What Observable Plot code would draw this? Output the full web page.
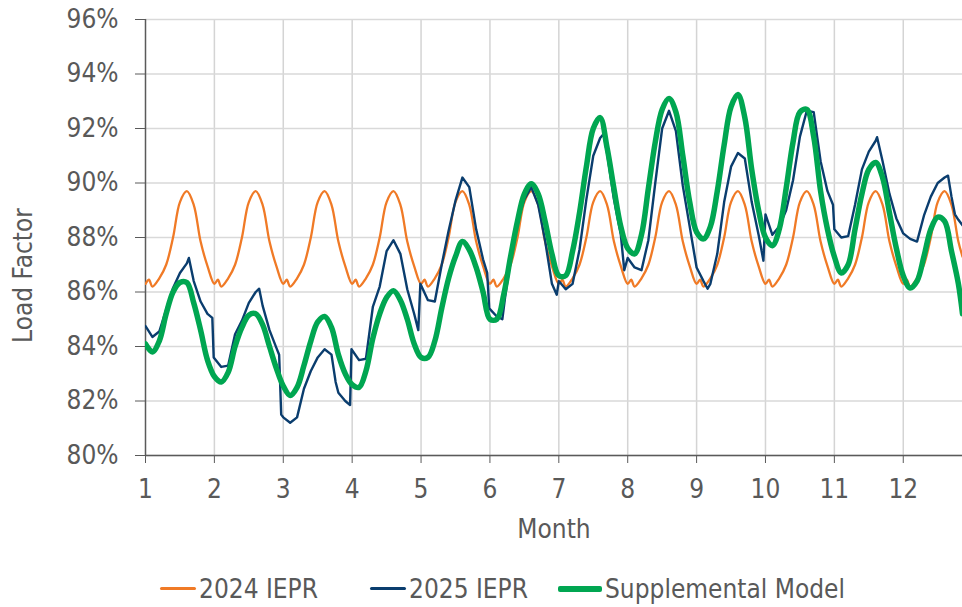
<!DOCTYPE html>
<html>
<head>
<meta charset="utf-8">
<script src="https://cdn.jsdelivr.net/npm/d3@7"></script>
<script src="https://cdn.jsdelivr.net/npm/@observablehq/plot@0.6"></script>
<style>
  html, body { margin: 0; padding: 0; background: #fff; }
  body { width: 962px; height: 607px; overflow: hidden; font-family: "DejaVu Sans Condensed", "DejaVu Sans", sans-serif; font-stretch: condensed; }
  #legend { position: relative; width: 962px; height: 47px; color: #595959; font-size: 26px; }
  .item { position: absolute; top: 5px; height: 47px; display: flex; align-items: center; }
  .sw { display: inline-block; width: 36px; margin-right: 3px; border-radius: 2px; }
</style>
</head>
<body>
<div id="chart"></div>
<div id="legend"></div>
<script>
// ---- data (month, load factor %) ----
const seriesNames = ["2024 IEPR", "2025 IEPR", "Supplemental Model"];
const seriesColors = ["#F07A26", "#0A3D6E", "#00A651"];
const monthTicks = [1, 2, 3, 4, 5, 6, 7, 8, 9, 10, 11, 12];
const yTicks = [80, 82, 84, 86, 88, 90, 92, 94, 96];

const iepr2024 = [
  [1.0,86.3],[1.05,86.45],[1.1,86.2],[1.2,86.5],[1.3,87.0],[1.4,88.0],[1.5,89.3],[1.6,89.7],[1.7,89.2],[1.8,87.85],[1.9,86.95],
  [2.0,86.3],[2.05,86.45],[2.1,86.2],[2.2,86.5],[2.3,87.0],[2.4,88.0],[2.5,89.3],[2.6,89.7],[2.7,89.2],[2.8,87.85],[2.9,86.95],
  [3.0,86.3],[3.05,86.45],[3.1,86.2],[3.2,86.5],[3.3,87.0],[3.4,88.0],[3.5,89.3],[3.6,89.7],[3.7,89.2],[3.8,87.85],[3.9,86.95],
  [4.0,86.3],[4.05,86.45],[4.1,86.2],[4.2,86.5],[4.3,87.0],[4.4,88.0],[4.5,89.3],[4.6,89.7],[4.7,89.2],[4.8,87.85],[4.9,86.95],
  [5.0,86.3],[5.05,86.45],[5.1,86.2],[5.2,86.5],[5.3,87.0],[5.4,88.0],[5.5,89.3],[5.6,89.7],[5.7,89.2],[5.8,87.85],[5.9,86.95],
  [6.0,86.3],[6.05,86.45],[6.1,86.2],[6.2,86.5],[6.3,87.0],[6.4,88.0],[6.5,89.3],[6.6,89.7],[6.7,89.2],[6.8,87.85],[6.9,86.95],
  [7.0,86.3],[7.05,86.45],[7.1,86.2],[7.2,86.5],[7.3,87.0],[7.4,88.0],[7.5,89.3],[7.6,89.7],[7.7,89.2],[7.8,87.85],[7.9,86.95],
  [8.0,86.3],[8.05,86.45],[8.1,86.2],[8.2,86.5],[8.3,87.0],[8.4,88.0],[8.5,89.3],[8.6,89.7],[8.7,89.2],[8.8,87.85],[8.9,86.95],
  [9.0,86.3],[9.05,86.45],[9.1,86.2],[9.2,86.5],[9.3,87.0],[9.4,88.0],[9.5,89.3],[9.6,89.7],[9.7,89.2],[9.8,87.85],[9.9,86.95],
  [10.0,86.3],[10.05,86.45],[10.1,86.2],[10.2,86.5],[10.3,87.0],[10.4,88.0],[10.5,89.3],[10.6,89.7],[10.7,89.2],[10.8,87.85],[10.9,86.95],
  [11.0,86.3],[11.05,86.45],[11.1,86.2],[11.2,86.5],[11.3,87.0],[11.4,88.0],[11.5,89.3],[11.6,89.7],[11.7,89.2],[11.8,87.85],[11.9,86.95],
  [12.0,86.3],[12.05,86.45],[12.1,86.2],[12.2,86.5],[12.3,87.0],[12.4,88.0],[12.5,89.3],[12.6,89.7],[12.7,89.2],[12.8,87.85],[12.86,87.3]
];

const iepr2025 = [
  [1.0,84.75],[1.1,84.35],[1.2,84.55],[1.3,85.35],[1.4,86.15],[1.5,86.7],[1.6,87.05],[1.63,87.25],[1.7,86.4],[1.8,85.65],[1.9,85.2],[1.97,85.05],
  [1.99,83.6],[2.1,83.25],[2.2,83.3],[2.3,84.45],[2.4,84.95],[2.5,85.6],[2.6,86.0],[2.65,86.12],[2.7,85.5],[2.8,84.6],[2.9,83.95],[2.94,83.7],
  [2.97,81.5],[3.0,81.4],[3.1,81.2],[3.2,81.4],[3.3,82.45],[3.4,83.1],[3.5,83.6],[3.6,83.9],[3.7,83.7],[3.76,82.7],[3.8,82.3],[3.9,82.0],[3.97,81.85],
  [3.99,83.9],[4.1,83.5],[4.2,83.55],[4.3,85.45],[4.4,86.2],[4.5,87.5],[4.6,87.9],[4.7,87.4],[4.8,86.1],[4.9,85.2],[4.96,84.6],
  [4.99,86.3],[5.1,85.7],[5.2,85.65],[5.3,87.0],[5.4,88.25],[5.5,89.35],[5.6,90.2],[5.7,89.85],[5.8,88.3],[5.9,87.2],[5.96,86.7],
  [5.99,85.4],[6.1,85.1],[6.18,85.0],[6.22,85.8],[6.3,87.2],[6.4,88.6],[6.5,89.4],[6.6,89.85],[6.7,89.2],[6.8,87.9],[6.9,86.3],[6.97,85.9],
  [7.0,86.4],[7.1,86.1],[7.2,86.3],[7.3,87.55],[7.4,89.4],[7.5,91.0],[7.6,91.65],[7.65,91.8],[7.7,91.1],[7.8,89.4],[7.9,88.1],[7.95,86.8],
  [8.0,87.25],[8.1,86.9],[8.2,86.8],[8.3,87.9],[8.4,90.0],[8.5,92.0],[8.6,92.65],[8.7,91.9],[8.8,89.9],[8.9,88.4],
  [9.0,86.9],[9.1,86.4],[9.16,86.12],[9.2,86.3],[9.3,87.4],[9.4,89.3],[9.5,90.6],[9.6,91.1],[9.7,90.9],[9.8,89.3],[9.9,88.1],[9.97,87.15],
  [10.0,88.85],[10.1,88.1],[10.2,88.4],[10.3,89.0],[10.4,90.1],[10.5,91.7],[10.6,92.65],[10.7,92.6],[10.8,90.8],[10.9,89.7],[10.98,89.2],
  [11.0,88.3],[11.1,88.0],[11.2,88.05],[11.3,89.2],[11.4,90.5],[11.5,91.15],[11.6,91.55],[11.62,91.68],[11.7,90.8],[11.8,89.6],[11.9,88.7],
  [12.0,88.15],[12.1,87.95],[12.2,87.85],[12.3,88.8],[12.4,89.5],[12.5,90.0],[12.6,90.2],[12.65,90.27],[12.7,89.5],[12.75,88.85],[12.8,88.65],[12.86,88.45]
];

const supplemental = [
  [1.0,84.1],[1.1,83.8],[1.2,84.2],[1.3,85.2],[1.4,86.0],[1.5,86.35],[1.6,86.35],[1.7,85.6],[1.8,84.6],[1.9,83.5],
  [2.0,82.9],[2.1,82.7],[2.2,83.05],[2.3,84.0],[2.4,84.7],[2.5,85.15],[2.6,85.2],[2.7,84.8],[2.8,84.0],[2.9,83.2],
  [3.0,82.55],[3.1,82.2],[3.2,82.5],[3.3,83.3],[3.4,84.2],[3.5,84.9],[3.6,85.1],[3.7,84.7],[3.8,83.7],[3.9,83.0],
  [4.0,82.6],[4.1,82.5],[4.2,83.1],[4.3,84.3],[4.4,85.2],[4.5,85.8],[4.6,86.05],[4.7,85.7],[4.8,85.0],[4.9,84.1],
  [5.0,83.6],[5.1,83.6],[5.2,84.2],[5.3,85.4],[5.4,86.5],[5.5,87.3],[5.6,87.85],[5.7,87.55],[5.8,86.9],[5.9,86.0],
  [6.0,85.0],[6.1,85.0],[6.2,85.9],[6.3,87.3],[6.4,88.6],[6.5,89.6],[6.6,89.97],[6.7,89.6],[6.8,88.6],[6.9,87.4],
  [7.0,86.6],[7.1,86.6],[7.2,87.5],[7.3,88.9],[7.4,90.6],[7.5,92.0],[7.6,92.4],[7.7,91.3],[7.8,89.8],[7.9,88.4],
  [8.0,87.6],[8.1,87.4],[8.2,88.1],[8.3,89.8],[8.4,91.5],[8.5,92.7],[8.6,93.1],[8.7,92.6],[8.8,91.0],[8.9,89.3],
  [9.0,88.2],[9.1,87.95],[9.2,88.4],[9.3,89.7],[9.4,91.4],[9.5,92.8],[9.6,93.25],[9.7,92.4],[9.8,90.5],[9.9,89.0],
  [10.0,88.0],[10.1,87.7],[10.2,88.3],[10.3,89.8],[10.4,91.5],[10.5,92.6],[10.6,92.7],[10.7,91.7],[10.8,89.7],[10.9,88.3],
  [11.0,87.3],[11.1,86.7],[11.2,87.0],[11.3,88.3],[11.4,89.6],[11.5,90.5],[11.6,90.75],[11.7,90.2],[11.8,88.9],[11.9,87.6],
  [12.0,86.6],[12.1,86.15],[12.2,86.4],[12.3,87.3],[12.4,88.3],[12.5,88.75],[12.6,88.6],[12.7,87.5],[12.8,86.3],[12.86,85.2]
];

const FONT = "'DejaVu Sans Condensed', 'DejaVu Sans', sans-serif";
const TEXT = "#595959";

const chart = Plot.plot({
  width: 962,
  height: 560,
  marginLeft: 145,
  marginRight: 0,
  marginTop: 19,
  marginBottom: 105,
  style: { fontFamily: FONT, fontSize: "26px", color: TEXT, background: "#fff", overflow: "visible", fontStretch: "condensed" },
  x: { domain: [1, 12.86] },
  y: { domain: [80, 96] },
  marks: [
    Plot.gridX(monthTicks.slice(1), { stroke: "#d4d4d4", strokeOpacity: 1, strokeWidth: 1.5 }),
    Plot.gridY(yTicks, { stroke: "#d9d9d9", strokeOpacity: 1, strokeWidth: 1.5 }),
    Plot.ruleX([1], { stroke: "#5a5a5a", strokeWidth: 1.5 }),
    Plot.ruleY([80], { stroke: "#5a5a5a", strokeWidth: 1.5 }),
    Plot.axisY(yTicks, { tickSize: 10, tickPadding: 17, tickFormat: d => d + "%", label: null, fontSize: 26, stroke: "#5a5a5a", fill: TEXT }),
    Plot.axisX(monthTicks, { tickSize: 8, tickPadding: 16, tickFormat: d => String(d), label: null, fontSize: 26, stroke: "#5a5a5a", fill: TEXT }),
    Plot.text(["Month"], { frameAnchor: "bottom", dy: 82, fontSize: 26, fill: TEXT }),
    Plot.text(["Load Factor"], { frameAnchor: "left", textAnchor: "middle", dx: -122, dy: 38, rotate: -90, fontSize: 26, fill: TEXT }),
    Plot.line(iepr2024, { x: d => d[0], y: d => d[1], stroke: seriesColors[0], strokeWidth: 2.3, curve: "catmull-rom", clip: true }),
    Plot.line(iepr2025, { x: d => d[0], y: d => d[1], stroke: seriesColors[1], strokeWidth: 2.4, curve: "linear", clip: true }),
    Plot.line(supplemental, { x: d => d[0], y: d => d[1], stroke: seriesColors[2], strokeWidth: 5.5, curve: "catmull-rom", clip: true })
  ]
});
document.getElementById("chart").appendChild(chart);

// legend (HTML, below the SVG)
const legendPos = [
  { left: 160, sw: 36, h: 3 },
  { left: 370, sw: 36, h: 3 },
  { left: 558, sw: 44, h: 6 }
];
const legend = document.getElementById("legend");
seriesNames.forEach((name, i) => {
  const item = document.createElement("div");
  item.className = "item";
  item.style.left = legendPos[i].left + "px";
  const sw = document.createElement("span");
  sw.className = "sw";
  sw.style.width = legendPos[i].sw + "px";
  sw.style.height = legendPos[i].h + "px";
  sw.style.background = seriesColors[i];
  const label = document.createElement("span");
  label.textContent = name;
  item.appendChild(sw);
  item.appendChild(label);
  legend.appendChild(item);
});
</script>
</body>
</html>
